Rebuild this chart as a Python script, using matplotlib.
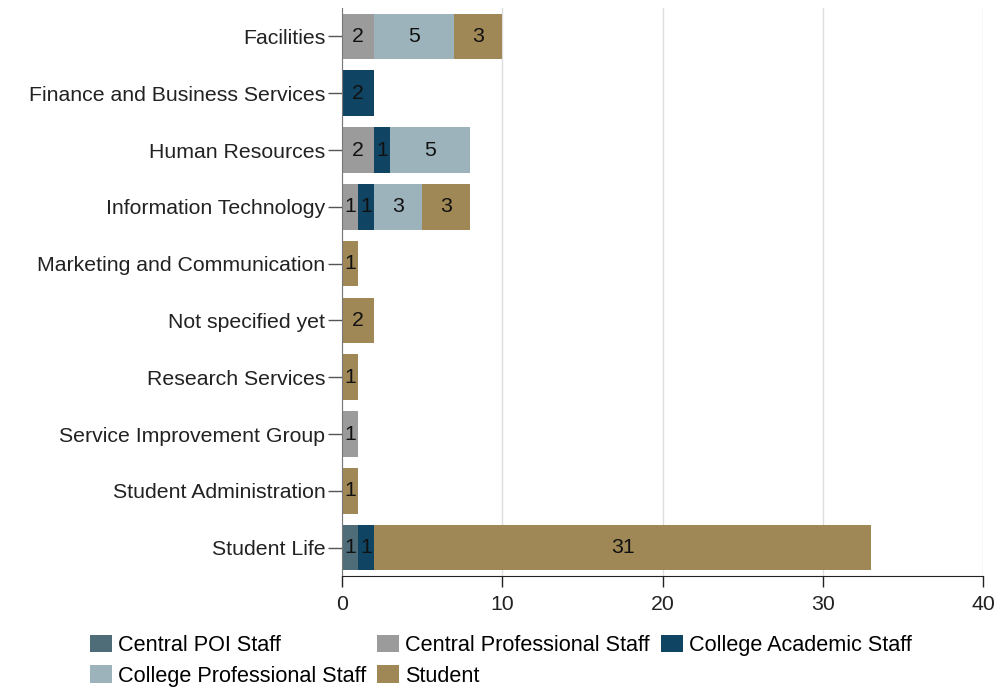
import matplotlib
matplotlib.use("Agg")
import matplotlib.pyplot as plt
import numpy as np
from matplotlib.patches import Patch

plt.rcParams["font.family"] = ["Liberation Sans", "DejaVu Sans"]

categories = [
    "Facilities",
    "Finance and Business Services",
    "Human Resources",
    "Information Technology",
    "Marketing and Communication",
    "Not specified yet",
    "Research Services",
    "Service Improvement Group",
    "Student Administration",
    "Student Life",
]
series_names = [
    "Central POI Staff",
    "Central Professional Staff",
    "College Academic Staff",
    "College Professional Staff",
    "Student",
]
central_poi = [0, 0, 0, 0, 0, 0, 0, 0, 0, 1]
central_prof = [2, 0, 2, 1, 0, 0, 0, 1, 0, 0]
college_acad = [0, 2, 1, 1, 0, 0, 0, 0, 0, 1]
college_prof = [5, 0, 5, 3, 0, 0, 0, 0, 0, 0]
student = [3, 0, 0, 3, 1, 2, 1, 0, 1, 31]
colors = ["#4e6d79", "#9b9b9b", "#0f4562", "#9db3bb", "#a08856"]

series = [central_poi, central_prof, college_acad, college_prof, student]
FS = 15.3

fig = plt.figure(figsize=(10.08, 6.88), dpi=100)
ax = fig.add_axes([342 / 1008, 1 - 576 / 688, 641 / 1008, 568 / 688])

y = np.arange(len(categories))
left = np.zeros(len(categories))
for name, vals, col in zip(series_names, series, colors):
    vals = np.asarray(vals, dtype=float)
    ax.barh(y, vals, left=left, height=0.8, color=col, label=name, zorder=2)
    for yi, v, l in zip(y, vals, left):
        if v > 0:
            ax.text(l + v / 2, yi, f"{int(v)}", ha="center", va="center",
                    fontsize=FS, color="#111111", zorder=3)
    left += vals

ax.set_xlim(0, 40)
ax.set_ylim(len(categories) - 0.5, -0.5)
ax.set_xticks([0, 10, 20, 30, 40])
ax.set_yticks(y)
ax.set_yticklabels(categories)
ax.tick_params(axis="both", labelsize=FS, colors="#222222")
ax.tick_params(axis="y", length=10, width=1, color="#555555", pad=2)
ax.tick_params(axis="x", length=8, width=1, color="#222222", pad=6)
ax.grid(axis="x", color="#dddddd", lw=1, zorder=0)

for side in ("top", "right"):
    ax.spines[side].set_visible(False)
ax.spines["left"].set_color("#777777")
ax.spines["bottom"].set_color("#222222")

# legend fills column by column, so reorder to read row by row like the original
order = [0, 3, 1, 4, 2]
handles = [Patch(facecolor=colors[i], edgecolor="none") for i in order]
labels = [series_names[i] for i in order]
fig.legend(handles, labels, loc="upper left",
           bbox_to_anchor=(90 / 1008, 1 - 635 / 688), ncol=3, frameon=False,
           fontsize=15.6, handlelength=1.0, handleheight=0.85, handletextpad=0.3,
           columnspacing=0.5, labelspacing=0.43, borderaxespad=0, borderpad=0)

fig.savefig("out.png", dpi=100)
